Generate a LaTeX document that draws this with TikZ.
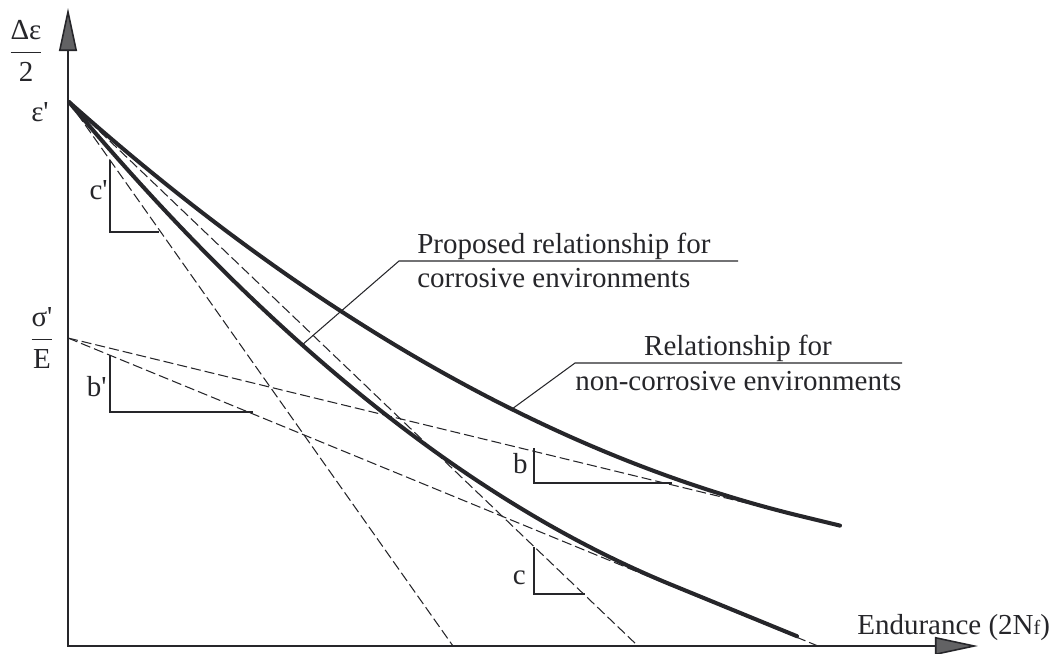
\documentclass[tikz,border=0pt]{standalone}
\usepackage{fontspec}
\setmainfont{Liberation Serif}
\usetikzlibrary{arrows.meta}
\definecolor{ink}{RGB}{38,38,42}
\definecolor{tipgray}{RGB}{98,98,100}
\tikzset{
	axis/.style={line width=0.9pt, ink},
	curve/.style={line width=2.3pt, line cap=round, line join=round, ink},
	guide/.style={line width=0.6pt, ink, dash pattern=on 5.7pt off 2.3pt},
	slope/.style={line width=0.7pt, ink},
	leader/.style={line width=0.6pt, ink},
	lbl/.style={inner sep=0pt, text=ink, font=\fontsize{16.5}{19.5}\selectfont},
}
\begin{document}
\begin{tikzpicture}[x=0.02cm, y=-0.02cm, >={Triangle[length=24.5pt,width=10.2pt,fill=tipgray]}]
	\useasboundingbox (0,0) rectangle (1055,653);
	% Points
		\coordinate (O) at (68,646);
		\coordinate (eps) at (69,102);
		\coordinate (sig) at (68,338);
	% Axes
		\draw[axis, <->] (68,8) -- (O) -- (978,646);
		\node[lbl] (ylab) at (26,51) {$\displaystyle\frac{\mbox{Δε}}{\mbox{2}}$};
		\node[lbl, anchor=base west] (xlab) at (857,634) {Endurance (2N{\fontsize{11.5}{12}\selectfont f})};
		\node[lbl] (epslab) at (40,112) {ε\textquotesingle};
		\node[lbl] (siglab) at (42,338) {$\displaystyle\frac{\mbox{σ\textquotesingle}}{\mbox{E}}$};
	% Dashed lines
		\draw[guide] (eps) -- (453,646);
		\draw[guide] (eps) -- (638,646);
		\draw[guide] (sig) -- (818,646);
		\draw[guide] (sig) -- (800,516);
	% Slope triangles
		\draw[slope] (110,160) -- (110,232) -- (159,232);
		\node[lbl, anchor=east] (cplab) at (108,190) {c\textquotesingle};
		\draw[slope] (110,355) -- (110,412) -- (253,412);
		\node[lbl, anchor=east] (bplab) at (107,387) {b\textquotesingle};
		\draw[slope] (534,448) -- (534,483) -- (672,483);
		\node[lbl, anchor=east] (blab) at (528,464) {b};
		\draw[slope] (534,547) -- (534,594) -- (585,594);
		\node[lbl, anchor=east] (clab) at (526,578) {c};
	% Curves
		\draw[curve] (eps) .. controls (312.7,318.7) and (556.3,456.7) .. (800,515.9) -- (840,525.6);
		\draw[curve] (eps) .. controls (270,341.8) and (471,502.8) .. (672,585) -- (797,636.2);
	% Leaders
		\coordinate (propfoot) at (302,345);
		\coordinate (propknee) at (399,261);
		\coordinate (propend) at (738,261);
		\draw[leader] (propfoot) -- (propknee) -- (propend);
		\node[lbl, anchor=base west] (proptop) at (417,253) {Proposed relationship for};
		\node[lbl, anchor=base west] (propbot) at (417,287) {corrosive environments};
		\coordinate (relfoot) at (512,409);
		\coordinate (relknee) at (575,363);
		\coordinate (relend) at (902,363);
		\draw[leader] (relfoot) -- (relknee) -- (relend);
		\node[lbl, anchor=base] (reltop) at (738,355) {Relationship for};
		\node[lbl, anchor=base west] (relbot) at (575,390) {non-corrosive environments};
\end{tikzpicture}
\end{document}
